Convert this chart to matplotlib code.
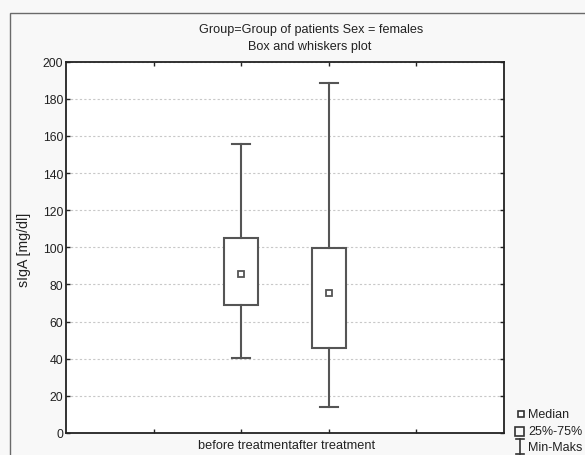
import matplotlib
matplotlib.use("Agg")
import matplotlib.pyplot as plt
from matplotlib.lines import Line2D
from matplotlib.patches import Rectangle

plt.rcParams['font.family'] = ['Liberation Sans', 'DejaVu Sans']

groups = ["before treatment", "after treatment"]
positions = [2, 3]
mins = [40.6, 13.8]
q1 = [69.0, 45.8]
medians = [85.6, 75.6]
q3 = [105.2, 99.5]
maxs = [155.7, 188.3]
yticks = [0, 20, 40, 60, 80, 100, 120, 140, 160, 180, 200]

W, H = 585, 456
fig = plt.figure(figsize=(W / 100, H / 100), dpi=100)
fig.patch.set_facecolor('#f8f8f8')

# outer frame
fig.patches.append(Rectangle((10 / W, -0.1), 1.2, 1 - 14 / H + 0.1, transform=fig.transFigure,
                             fill=False, edgecolor='#6a6a6a', lw=1.0))

ax = fig.add_axes([66 / W, 1 - 434 / H, (504 - 66) / W, (434 - 62.7) / H])
ax.set_facecolor('white')
ax.set_xlim(0, 5)
ax.set_ylim(0, 200)
ax.set_yticks(yticks)
ax.set_xticks([1, 2, 3, 4])
ax.set_xticklabels([])
ax.tick_params(axis='both', direction='in', length=3, width=1, color='#222222',
               labelsize=8.8, labelcolor='#222222', top=True, right=True, pad=2)
for s in ax.spines.values():
    s.set_color('#222222')
    s.set_linewidth(1.3)
ax.yaxis.grid(True, color='#c8c8c8', linestyle=(0, (2, 2)), lw=0.8)
ax.set_axisbelow(True)

col = '#555555'
bw = 0.39
cw = 0.2
for p, lo, a, m, b, hi in zip(positions, mins, q1, medians, q3, maxs):
    ax.add_patch(Rectangle((p - bw / 2, a), bw, b - a, facecolor='white', edgecolor=col, lw=1.5, zorder=3))
    ax.plot([p, p], [b, hi], color=col, lw=1.5, zorder=3)
    ax.plot([p, p], [lo, a], color=col, lw=1.5, zorder=3)
    ax.plot([p - cw / 2, p + cw / 2], [hi, hi], color=col, lw=1.5, zorder=3)
    ax.plot([p - cw / 2, p + cw / 2], [lo, lo], color=col, lw=1.5, zorder=3)
    ax.plot([p], [m], marker='s', ms=4.5, mfc='white', mec=col, mew=1.3, zorder=4)

fig.text(24 / W, 1 - 250 / H, "sIgA [mg/dl]", rotation=90, ha='center', va='center',
         fontsize=10.2, color='#222222')
fig.text(287 / W, 1 - 446 / H, "".join(groups), ha='center', va='center', fontsize=9.2, color='#222222')

fig.text(311 / W, 1 - 30 / H, "Group=Group of patients Sex = females", ha='center', va='center',
         fontsize=9.1, color='#222222')
fig.text(310 / W, 1 - 47 / H, "Box and whiskers plot", ha='center', va='center',
         fontsize=9.1, color='#222222')

# legend
tf = fig.transFigure
def fx(x):
    return x / W
def fy(y):
    return 1 - y / H
fig.lines.append(Line2D([fx(521)], [fy(415)], marker='s', ms=4, mfc='white', mec='#333333', mew=1.2,
                        transform=tf))
fig.text(fx(528), fy(415), "Median", ha='left', va='center', fontsize=9, color='#222222')
fig.patches.append(Rectangle((fx(515), fy(437)), 9 / W, 9 / H, transform=tf, fill=False,
                             edgecolor='#333333', lw=1.2))
fig.text(fx(528), fy(432), "25%-75%", ha='left', va='center', fontsize=9, color='#222222')
fig.lines.append(Line2D([fx(519.5), fx(519.5)], [fy(440), fy(455)], color='#333333', lw=1.2, transform=tf))
fig.lines.append(Line2D([fx(515.5), fx(523.5)], [fy(440), fy(440)], color='#333333', lw=1.2, transform=tf))
fig.lines.append(Line2D([fx(515.5), fx(523.5)], [fy(455), fy(455)], color='#333333', lw=1.2, transform=tf))
fig.text(fx(528), fy(448), "Min-Maks", ha='left', va='center', fontsize=9, color='#222222')

fig.savefig("out.png", dpi=100, facecolor=fig.get_facecolor())
